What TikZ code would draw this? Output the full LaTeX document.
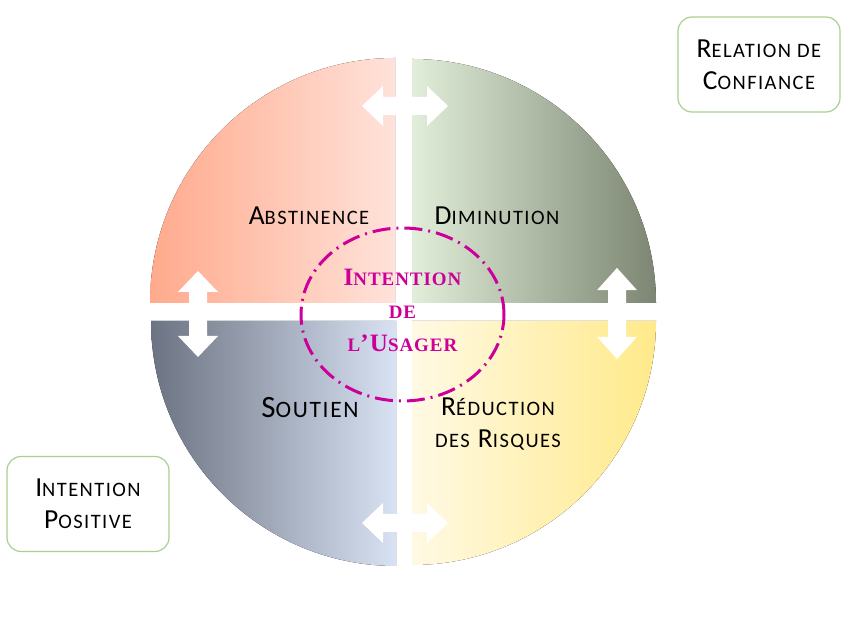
\documentclass[tikz,border=0pt]{standalone}
\usepackage{fontspec}
\usetikzlibrary{shapes.geometric}
\newfontfamily\calib[LetterSpace=7]{Carlito}
\newfontfamily\serifb[LetterSpace=5]{Liberation Serif}
\definecolor{tlleft}{RGB}{255, 170, 140}
\definecolor{tlright}{RGB}{255, 226, 218}
\definecolor{trleft}{RGB}{225, 238, 218}
\definecolor{trright}{RGB}{124, 134, 114}
\definecolor{blleft}{RGB}{108, 115, 130}
\definecolor{blright}{RGB}{216, 226, 243}
\definecolor{brleft}{RGB}{255, 249, 228}
\definecolor{brright}{RGB}{255, 234, 138}
\definecolor{usagerpink}{RGB}{204, 0, 153}
\definecolor{boxgreen}{RGB}{169, 209, 142}
\newcommand{\lo}[1]{{\fontsize{20.5}{22}\selectfont #1}}
\newcommand{\slo}[1]{{\fontsize{19}{22}\selectfont #1}}
\tikzset{
  quadlabel/.style={
    align=center,
    inner sep=0pt,
    font=\calib\fontsize{27.5}{32}\selectfont
  },
  sidebox/.style={
    draw=boxgreen,
    line width=1.2pt,
    rounded corners=14pt,
    fill=white,
    minimum width=162pt,
    minimum height=95pt,
    align=center,
    font=\calib\fontsize{27.5}{32}\selectfont
  },
  usager/.style={
    ellipse,
    draw=usagerpink,
    line width=3pt,
    dash pattern=on 18pt off 6pt on 2pt off 6pt,
    minimum width=203pt,
    minimum height=173pt,
    inner sep=0pt
  },
  usagertext/.style={
    align=center,
    inner sep=0pt,
    text=usagerpink,
    font=\serifb\bfseries\fontsize{25}{33}\selectfont
  },
  twoway/.pic={
    \fill[white] (-43,0) -- (-22,20) -- (-22,9) -- (22,9) -- (22,20)
      -- (43,0) -- (22,-20) -- (22,-9) -- (-22,-9) -- (-22,-20) -- cycle;
  }
}

\begin{document}
\begin{tikzpicture}[x=1pt, y=1pt]
  \useasboundingbox (0,0) rectangle (849,620);

  % quarters
  \fill[left color=tlleft, right color=tlright]
    (395,317) -- (150,317) arc[start angle=180, end angle=90, radius=245] -- cycle;
  \fill[left color=trleft, right color=trright]
    (412,317) -- (412,561) arc[start angle=90, end angle=0, radius=244] -- cycle;
  \fill[left color=blleft, right color=blright]
    (396,299) -- (151,299) arc[start angle=180, end angle=270, radius=245] -- cycle;
  \fill[left color=brleft, right color=brright]
    (412,299) -- (656,299) arc[start angle=0, end angle=-90, radius=244] -- cycle;

  % double arrows
  \pic at (405,514) {twoway};
  \pic at (405,97) {twoway};
  \pic[rotate=90] at (198,306) {twoway};
  \pic[rotate=90, xscale=1.06] at (617,306.5) {twoway};

  \node[quadlabel] (abstinence) at (309,404) {A\lo{BSTINENCE}};
  \node[quadlabel] (diminution) at (497,404) {D\lo{IMINUTION}};
  \node[quadlabel, font=\calib\fontsize{31}{34}\selectfont] (soutien) at (310,212)
    {S{\fontsize{23.5}{26}\selectfont OUTIEN}};
  \node[quadlabel] (reduction) at (498,196) {R\lo{ÉDUCTION}\\\lo{DES} R\lo{ISQUES}};

  \node[usager] (ellipse) at (402.5,305.5) {};
  \node[usagertext] (intention) at (402.5,309.5)
    {I\slo{NTENTION}\\\slo{DE}\\\slo{L}’U\slo{SAGER}};

  \node[sidebox] (confiance) at (759,555.5) {R\lo{ELATION DE}\\C\lo{ONFIANCE}};
  \node[sidebox] (positive) at (88,116) {I\lo{NTENTION}\\P\lo{OSITIVE}};
\end{tikzpicture}
\end{document}
